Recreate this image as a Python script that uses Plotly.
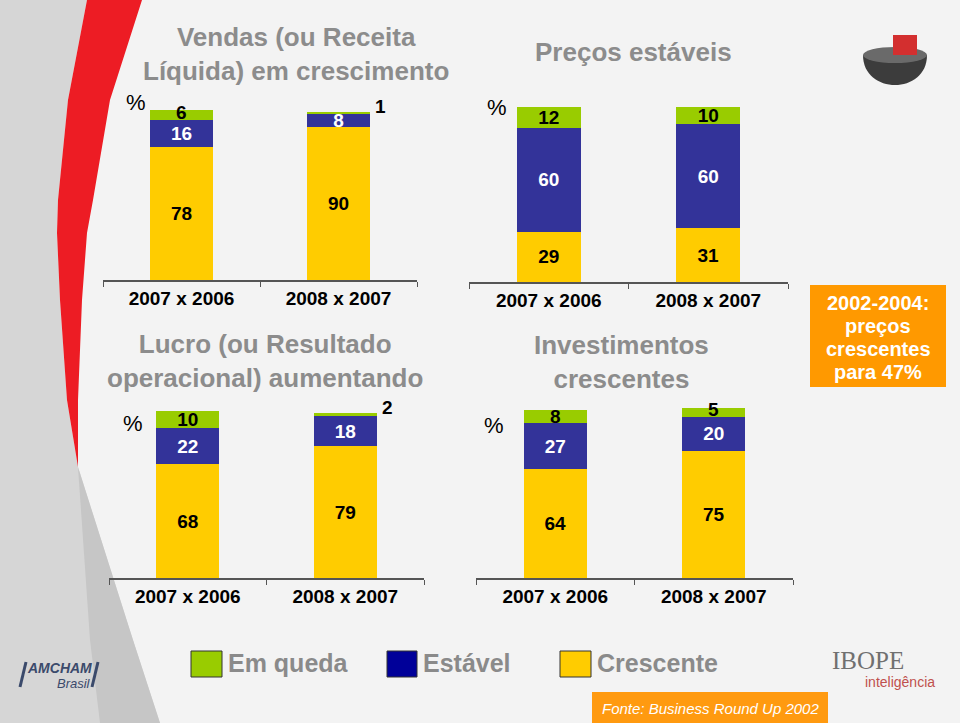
import plotly.graph_objects as go

W, H = 960, 723

# ---------------- data ----------------
categories = ["2007 x 2006", "2008 x 2007"]
series_names = ["Crescente", "Estável", "Em queda"]

vendas_crescente = [78, 90]
vendas_estavel = [16, 8]
vendas_queda = [6, 1]

precos_crescente = [29, 31]
precos_estavel = [60, 60]
precos_queda = [12, 10]

lucro_crescente = [68, 79]
lucro_estavel = [22, 18]
lucro_queda = [10, 2]

invest_crescente = [64, 75]
invest_estavel = [27, 20]
invest_queda = [8, 5]

panel_titles = [
    "Vendas (ou Receita<br>Líquida) em crescimento",
    "Preços estáveis",
    "Lucro (ou Resultado<br>operacional) aumentando",
    "Investimentos<br>crescentes",
]
legend_labels = ["Em queda", "Estável", "Crescente"]
note_lines = ["2002-2004:", "preços", "crescentes", "para 47%"]
source_text = "Fonte: Business Round Up 2002"

panels_data = [
    [vendas_crescente, vendas_estavel, vendas_queda],
    [precos_crescente, precos_estavel, precos_queda],
    [lucro_crescente, lucro_estavel, lucro_queda],
    [invest_crescente, invest_estavel, invest_queda],
]

# ---------------- style ----------------
FONT = "Liberation Sans, Arial, sans-serif"
bar_colors = {"Crescente": "#FFCC00", "Estável": "#333399", "Em queda": "#99CC00"}
text_colors = {"Crescente": "black", "Estável": "white", "Em queda": "black"}
legend_colors = {"Em queda": "#99CC00", "Estável": "#000099", "Crescente": "#FFCC00"}

# panel geometry in pixels: x0, x1, axis baseline y, px per unit
geom = [
    (103, 417, 280, 1.70),
    (469, 788, 282, 1.733),
    (109, 424, 578, 1.67),
    (476, 793, 578, 1.70),
]
YMAX = 110
LBL = 19


def px(x):
    return x / W


def py(y):
    return 1 - y / H


def path(points):
    s = "M " + " L ".join(f"{px(x):.5f},{py(y):.5f}" for x, y in points) + " Z"
    return s


fig = go.Figure()
layout_axes = {}
annotations = []
shapes = []

for i, (pdata, (x0, x1, base, scale)) in enumerate(zip(panels_data, geom)):
    k = "" if i == 0 else str(i + 1)
    xa, ya = "x" + k, "y" + k
    for name, vals in zip(series_names, pdata):
        # labels of thin segments are drawn as annotations (nudged), others inside bars
        fig.add_trace(go.Bar(
            x=categories, y=vals, xaxis=xa, yaxis=ya, name=name,
            marker=dict(color=bar_colors[name], line=dict(width=0)),
            width=0.4,
            text=[str(v) if v * scale >= 12 else "" for v in vals],
            textposition="inside", insidetextanchor="middle", textangle=0,
            constraintext="none", cliponaxis=False,
            textfont=dict(family=FONT, size=LBL, color=text_colors[name], weight="bold"),
            showlegend=False, hoverinfo="skip",
        ))
    for ci, cat in enumerate(categories):
        cum = 0
        for name, vals in zip(series_names, pdata):
            v = vals[ci]
            if v < 3:
                annotations.append(dict(
                    x=cat, y=cum + v, xref=xa, yref=ya, text=f"<b>{v}</b>",
                    showarrow=False, xshift=42, yshift=5, yanchor="middle",
                    font=dict(family=FONT, size=LBL, color="black")))
            elif v * scale < 12:
                annotations.append(dict(
                    x=cat, y=cum + v / 2, xref=xa, yref=ya, text=f"<b>{v}</b>",
                    showarrow=False, yshift=3, yanchor="middle",
                    font=dict(family=FONT, size=LBL, color=text_colors[name])))
            cum += v
    top = base - YMAX * scale
    layout_axes["xaxis" + k] = dict(
        domain=[px(x0), px(x1)], anchor=ya, type="category",
        categoryorder="array", categoryarray=categories, range=[-0.5, 1.5],
        showline=True, linecolor="#555555", linewidth=1.5,
        ticks="outside", tickson="boundaries", ticklen=5, tickcolor="#555555",
        tickfont=dict(family=FONT, size=19, color="black", weight="bold"),
        showgrid=False, zeroline=False, fixedrange=True)
    layout_axes["yaxis" + k] = dict(
        domain=[py(base), py(top)], anchor=xa, range=[0, YMAX],
        visible=False, fixedrange=True)

# ---------------- background decoration ----------------
red_left = [(87, 0), (68, 100), (58, 200), (57, 233), (60, 300), (67, 400), (78, 467)]
red_right = [(142, 0), (110, 100), (93, 200), (87, 233), (82, 300), (78, 400)]
shapes.append(dict(type="path", xref="paper", yref="paper", layer="below",
                   path=path([(0, 0)] + red_left + [(133, 640), (160, 723), (0, 723)]),
                   fillcolor="#d6d6d6", line=dict(width=0)))
shapes.append(dict(type="path", xref="paper", yref="paper", layer="below",
                   path=path([(78, 467), (133, 640), (160, 723), (100, 723), (90, 640)]),
                   fillcolor="#c6c6c6", line=dict(width=0)))
shapes.append(dict(type="path", xref="paper", yref="paper", layer="below",
                   path=path(red_left + list(reversed(red_right))),
                   fillcolor="#ED1C24", line=dict(width=0)))

# 3D logo (top right)
shapes.append(dict(type="path", xref="paper", yref="paper",
                   path=f"M {px(863)},{py(55)} C {px(863)},{py(95)} {px(927)},{py(95)} {px(927)},{py(55)} Z",
                   fillcolor="#3c3c3c", line=dict(width=0)))
shapes.append(dict(type="circle", xref="paper", yref="paper",
                   x0=px(863), x1=px(927), y0=py(63), y1=py(47),
                   fillcolor="#6a6a6a", line=dict(width=0)))
shapes.append(dict(type="rect", xref="paper", yref="paper",
                   x0=px(893), x1=px(917), y0=py(55), y1=py(35),
                   fillcolor="#D32F2F", line=dict(width=0)))

# ---------------- panel titles and % marks ----------------
title_pos = [(296, 54), (633, 52), (265, 361), (621, 362)]
for t, (x, y) in zip(panel_titles, title_pos):
    annotations.append(dict(x=px(x), y=py(y), xref="paper", yref="paper",
                            text=f"<b>{t}</b>", showarrow=False, align="center",
                            xanchor="center", yanchor="middle",
                            font=dict(family=FONT, size=26, color="#8c8c8c")))
pct_pos = [(136, 103), (497, 107), (133, 423), (494, 425)]
for x, y in pct_pos:
    annotations.append(dict(x=px(x), y=py(y), xref="paper", yref="paper", text="%",
                            showarrow=False, xanchor="center", yanchor="middle",
                            font=dict(family=FONT, size=22, color="black")))

# ---------------- orange note box ----------------
shapes.append(dict(type="rect", xref="paper", yref="paper",
                   x0=px(810), x1=px(946), y0=py(387), y1=py(285),
                   fillcolor="#FF9900", line=dict(width=0)))
for line, y in zip(note_lines, [303, 326, 349, 372]):
    annotations.append(dict(x=px(878), y=py(y), xref="paper", yref="paper",
                            text=f"<b>{line}</b>", showarrow=False,
                            xanchor="center", yanchor="middle",
                            font=dict(family=FONT, size=20, color="white")))

# ---------------- legend ----------------
leg_sq = [(191, 222), (387, 417), (560, 591)]
for lab, (sx0, sx1) in zip(legend_labels, leg_sq):
    shapes.append(dict(type="rect", xref="paper", yref="paper",
                       x0=px(sx0), x1=px(sx1), y0=py(677), y1=py(651),
                       fillcolor=legend_colors[lab], line=dict(color="#333333", width=1)))
    annotations.append(dict(x=px(sx1 + 4), y=py(663), xref="paper", yref="paper",
                            text=f"<b>{lab}</b>", showarrow=False,
                            xanchor="left", yanchor="middle",
                            font=dict(family=FONT, size=25, color="#8a8a8a")))

# ---------------- source box ----------------
shapes.append(dict(type="rect", xref="paper", yref="paper",
                   x0=px(592), x1=px(828), y0=py(723), y1=py(692),
                   fillcolor="#FF9A10", line=dict(width=0)))
annotations.append(dict(x=px(710), y=py(708), xref="paper", yref="paper",
                        text=f"<i>{source_text}</i>", showarrow=False,
                        xanchor="center", yanchor="middle",
                        font=dict(family=FONT, size=15, color="white")))

# ---------------- logos ----------------
for (ax0, ay0, ax1, ay1) in [(20, 687, 26, 662), (92, 687, 98, 662)]:
    shapes.append(dict(type="line", xref="paper", yref="paper",
                       x0=px(ax0), y0=py(ay0), x1=px(ax1), y1=py(ay1),
                       line=dict(color="#3b4a6b", width=3)))
annotations.append(dict(x=px(59), y=py(668), xref="paper", yref="paper",
                        text="<b><i>AMCHAM</i></b>", showarrow=False,
                        xanchor="center", yanchor="middle",
                        font=dict(family="Liberation Sans Narrow, Liberation Sans", size=14, color="#3b4a6b")))
annotations.append(dict(x=px(74), y=py(683), xref="paper", yref="paper",
                        text="<i>Brasil</i>", showarrow=False,
                        xanchor="center", yanchor="middle",
                        font=dict(family="Liberation Sans Narrow, Liberation Sans", size=13, color="#3b4a6b")))
annotations.append(dict(x=px(868), y=py(660), xref="paper", yref="paper",
                        text="IBOPE", showarrow=False, xanchor="center", yanchor="middle",
                        font=dict(family="Liberation Serif, serif", size=25, color="#707070")))
annotations.append(dict(x=px(900), y=py(682), xref="paper", yref="paper",
                        text="inteligência", showarrow=False, xanchor="center", yanchor="middle",
                        font=dict(family="Liberation Sans Narrow, Liberation Sans", size=14, color="#C0504D")))

fig.update_layout(
    width=W, height=H, margin=dict(l=0, r=0, t=0, b=0),
    paper_bgcolor="#f3f3f3", plot_bgcolor="rgba(0,0,0,0)",
    barmode="stack", showlegend=False,
    annotations=annotations, shapes=shapes,
    **layout_axes,
)

fig.write_html("out.html", config={"displayModeBar": False},
               post_script="document.body.style.margin='0';document.body.style.overflow='hidden';")
